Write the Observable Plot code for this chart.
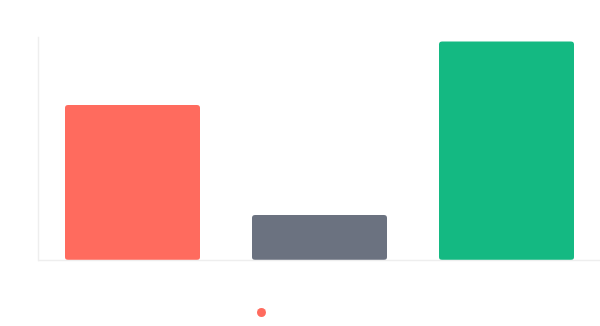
<!DOCTYPE html>
<html>
<head>
<meta charset="utf-8">
<script src="https://cdn.jsdelivr.net/npm/d3@7"></script>
<script src="https://cdn.jsdelivr.net/npm/@observablehq/plot@0.6"></script>
<style>
  html, body { margin: 0; padding: 0; background: #fff; font-family: Inter, "Noto Sans", sans-serif; }
  #chart svg { display: block; }
  .legend { height: 36px; position: relative; }
  .legend .item { position: absolute; left: 257px; top: 18px; display: flex; align-items: center; gap: 6px; font-size: 12px; color: #6b7280; }
  .legend .swatch { width: 9px; height: 9px; border-radius: 50%; display: inline-block; }
</style>
</head>
<body>
<div id="chart"></div>
<div class="legend"><span class="item"><span class="swatch" id="sw"></span><span></span></span></div>
<script>
const categories = ["A", "B", "C"];
const values = [69.5, 20.2, 98];
const colors = ["#ff6b5e", "#6b7280", "#14b982"];

const data = categories.map((c, i) => ({category: c, value: values[i]}));

const chart = Plot.plot({
  width: 600,
  height: 290,
  marginLeft: 38,
  marginRight: 0,
  marginTop: 37,
  marginBottom: 30,
  x: {domain: categories, paddingInner: 0.28, paddingOuter: 0.14, axis: null},
  y: {domain: [0, 100], axis: null},
  color: {domain: categories, range: colors},
  marks: [
    Plot.barY(data, {x: "category", y: "value", fill: "category", rx: 3}),
    Plot.frame({anchor: "left", stroke: "#eeeeee", strokeWidth: 1.5}),
    Plot.ruleY([0], {stroke: "#eeeeee", strokeWidth: 1.5})
  ]
});
document.getElementById("chart").append(chart);
document.getElementById("sw").style.background = colors[0];
</script>
</body>
</html>
